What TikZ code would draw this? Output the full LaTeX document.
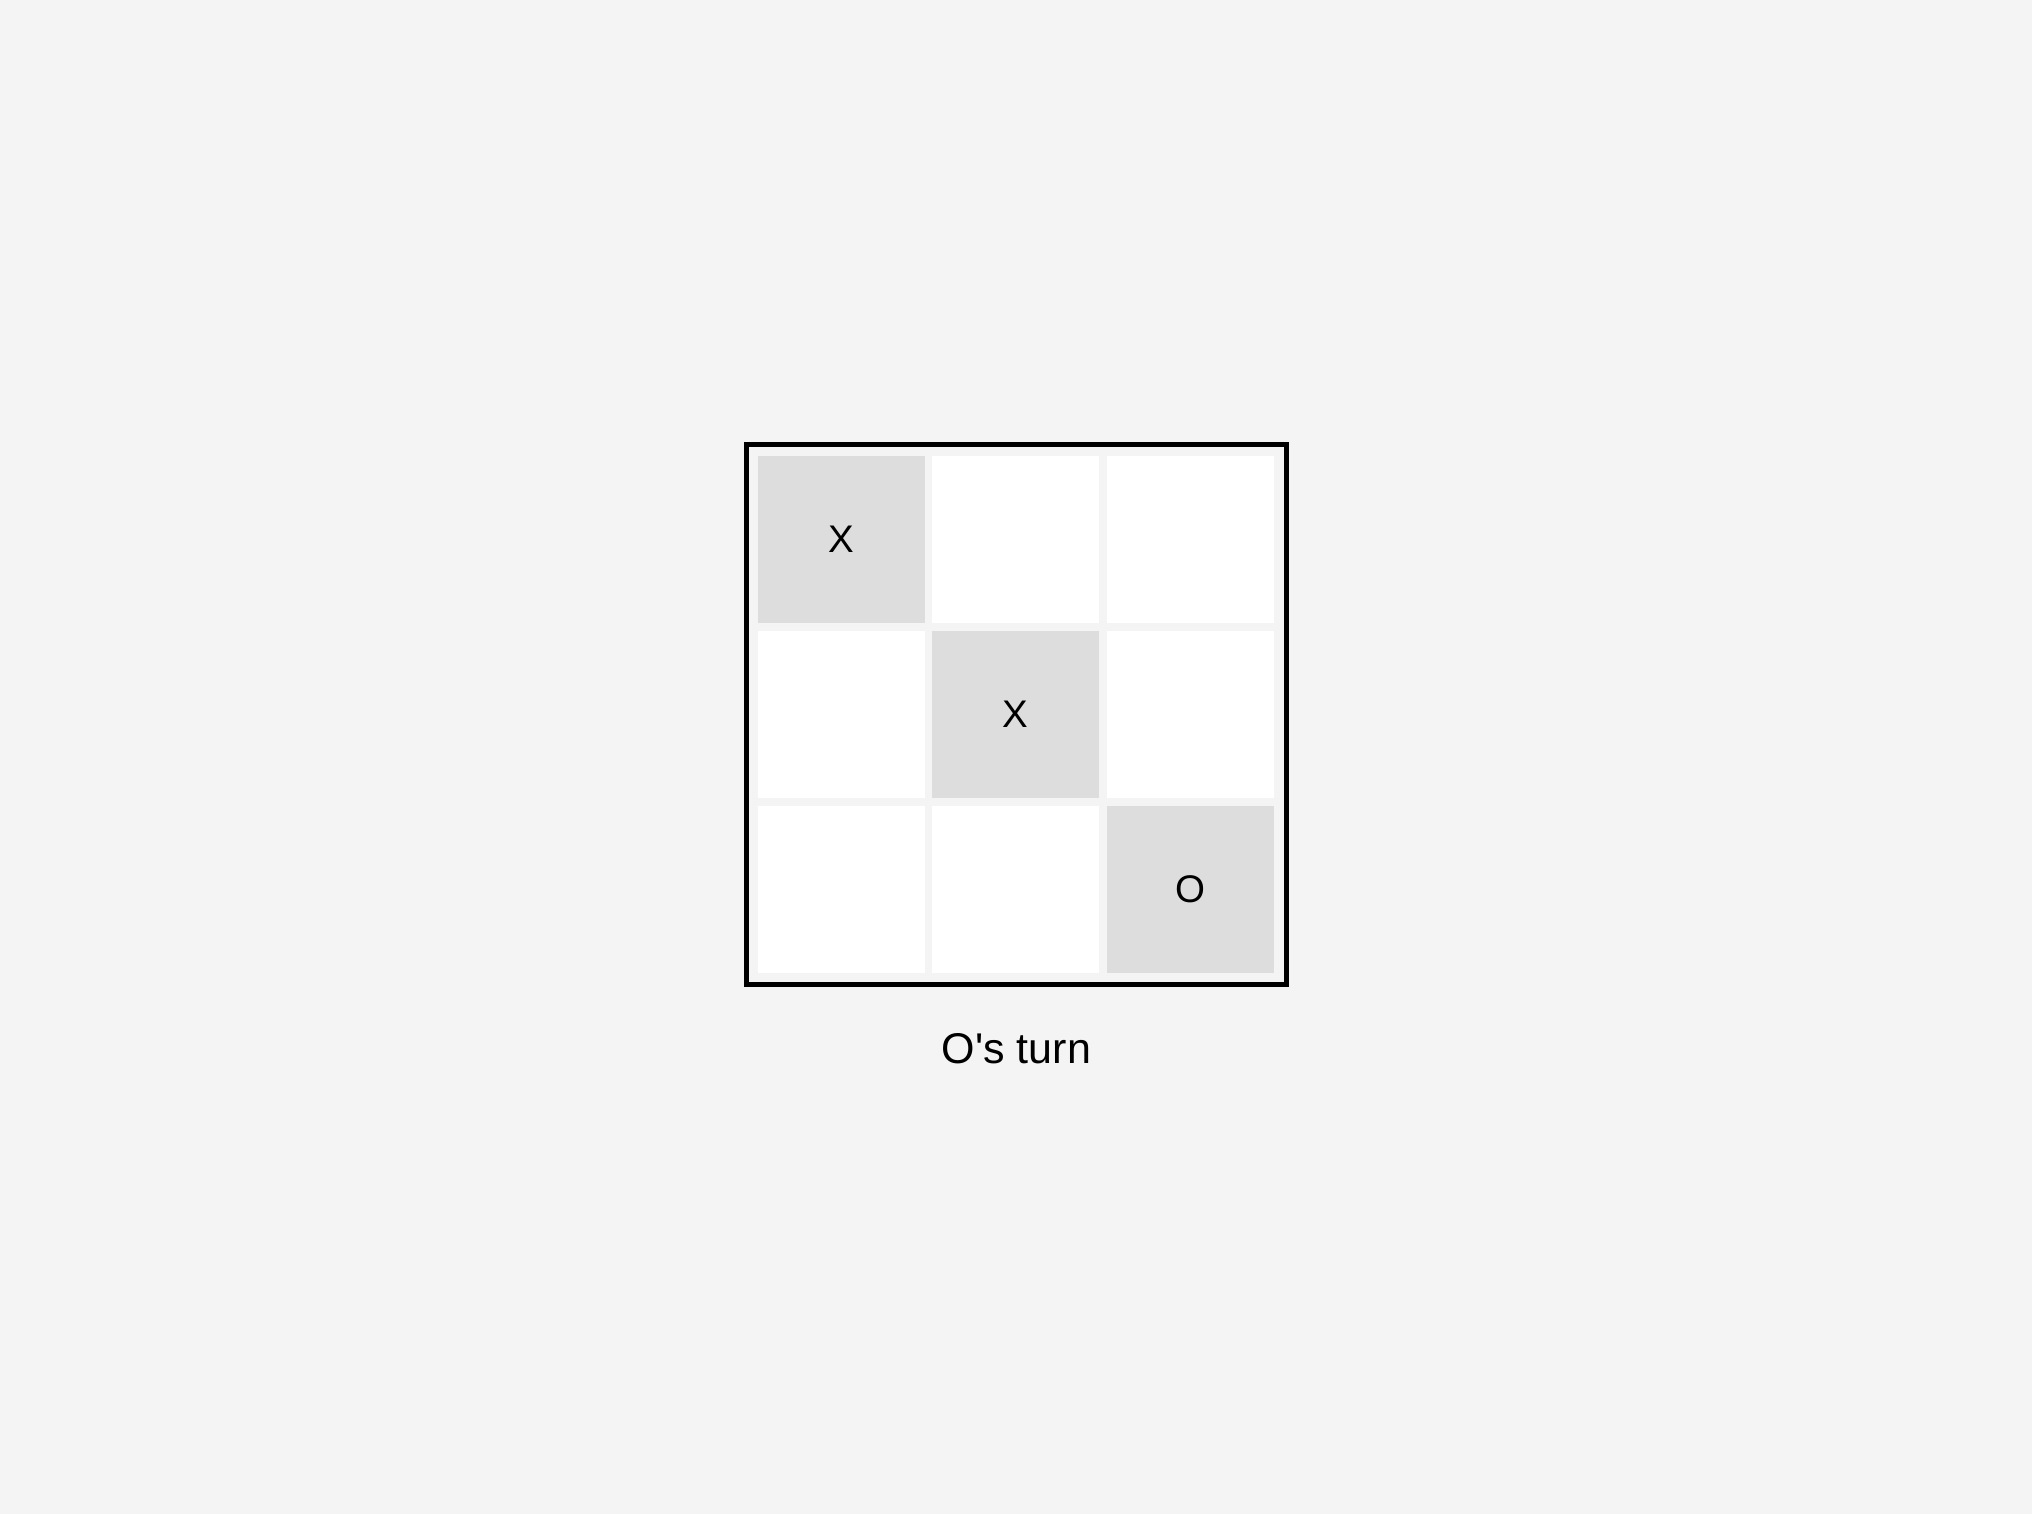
\documentclass[tikz,border=0pt]{standalone}
\usepackage{fontspec}
\setmainfont{Liberation Sans}[Ligatures=TeXReset]
\definecolor{pagebg}{HTML}{F4F4F4}
\definecolor{taken}{HTML}{DDDDDD}
\tikzset{
  board/.style={draw=black,line width=5pt,fill=pagebg,minimum size=540pt,inner sep=0pt},
  free/.style={fill=white,minimum size=167pt,inner sep=0pt},
  played/.style={fill=taken,minimum size=167pt,inner sep=0pt,font=\fontsize{38.5}{44}\selectfont},
}
\begin{document}
\begin{tikzpicture}[x=1pt,y=-1pt]
\fill[pagebg](0,0) rectangle (2032,1514);
\useasboundingbox (0,0) rectangle (2032,1514);

\node[board] (board) at (1016.5,714.5) {};

\node[played] (c11) at (841.5,539.5) {X};
\node[free] (c12) at (1015.5,539.5) {};
\node[free] (c13) at (1190,539.5) {};

\node[free] (c21) at (841.5,714.5) {};
\node[played] (c22) at (1015.5,714.5) {X};
\node[free] (c23) at (1190,714.5) {};

\node[free] (c31) at (841.5,889.5) {};
\node[free] (c32) at (1015.5,889.5) {};
\node[played] (c33) at (1190,889.5) {O};

\node[anchor=base,font=\fontsize{43}{50}\selectfont] (turn) at (1016.5,1063) {O's turn};

\end{tikzpicture}
\end{document}
